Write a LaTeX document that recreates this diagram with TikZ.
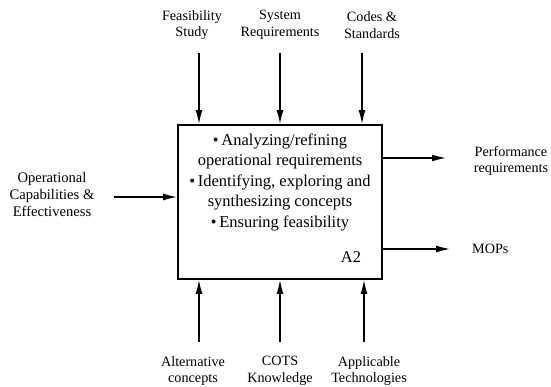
\documentclass[tikz,border=0pt]{standalone}
\usepackage{fontspec}
\setmainfont{Liberation Serif}
\usetikzlibrary{arrows.meta}
\begin{document}
\begin{tikzpicture}[x=1pt,y=-1pt,
  flow/.style={line width=1.4pt,-{Latex[length=14pt,width=7pt]}},
  lbl/.style={align=center,inner sep=0pt,font=\fontsize{14.2}{16.5}\selectfont},
  func/.style={draw,line width=1.8pt,inner sep=0pt,minimum width=204pt,minimum height=154pt},
  inside/.style={align=center,inner sep=0pt,font=\fontsize{16.5}{20.5}\selectfont}]
\useasboundingbox (0,0) rectangle (551,387);

% activity box A2
\node[func] (box) at (280,202) {};
\node[inside] (body) at (280,182) {\textbullet\,Analyzing/refining\\operational requirements\\\textbullet\,Identifying, exploring and\\synthesizing concepts\\\textbullet\,Ensuring feasibility};
\node[inside] (code) at (351,257) {A2};

% controls (top)
\node[lbl] (ctrlA) at (192,25) {Feasibility\\Study};
\node[lbl] (ctrlB) at (280,25) {System\\Requirements};
\node[lbl] (ctrlC) at (372,25) {Codes \&\\Standards};
\coordinate (cA) at (199,53);
\coordinate (cB) at (280,53);
\coordinate (cC) at (362,53);
\draw[flow] (cA) -- (cA |- box.north);
\draw[flow] (cB) -- (cB |- box.north);
\draw[flow] (cC) -- (cC |- box.north);

% mechanisms (bottom)
\node[lbl] (mechA) at (193,371) {Alternative\\concepts};
\node[lbl] (mechB) at (280,371) {COTS\\Knowledge};
\node[lbl] (mechC) at (369,371) {Applicable\\Technologies};
\coordinate (mA) at (199,342);
\coordinate (mB) at (280,342);
\coordinate (mC) at (364,342);
\draw[flow] (mA) -- (mA |- box.south);
\draw[flow] (mB) -- (mB |- box.south);
\draw[flow] (mC) -- (mC |- box.south);

% input (left)
\node[lbl,font=\fontsize{14.6}{17}\selectfont] (inp) at (52,195) {Operational\\Capabilities \&\\Effectiveness};
\coordinate (iA) at (114,197);
\draw[flow] (iA) -- (iA -| box.west);

% outputs (right)
\node[lbl] (outA) at (511,161) {Performance\\requirements};
\node[lbl,anchor=west] (outB) at (472,249) {MOPs};
\coordinate (oA) at (446,158);
\coordinate (oB) at (450,249);
\draw[flow] (oA -| box.east) -- (oA);
\draw[flow] (oB -| box.east) -- (oB);
\end{tikzpicture}
\end{document}
